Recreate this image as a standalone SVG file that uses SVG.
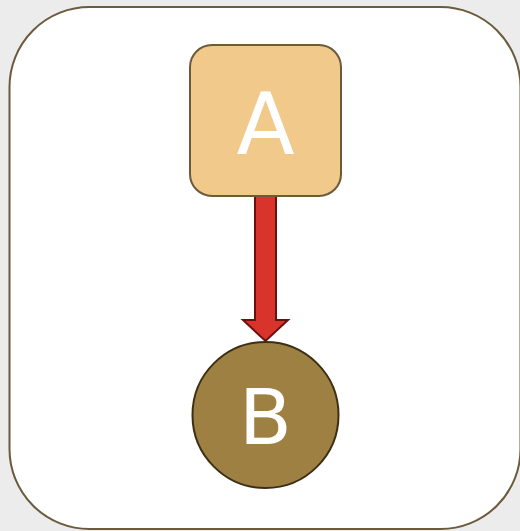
<svg xmlns="http://www.w3.org/2000/svg" width="520" height="531" viewBox="0 0 520 531">
<style>
.lbl{font-family:"DejaVu Sans","Liberation Sans",sans-serif;fill:#ffffff;text-anchor:middle}
</style>
<rect x="0" y="0" width="520" height="531" fill="#ececec"/>
<rect x="9.5" y="7" width="511" height="522" rx="80" ry="80" fill="#ffffff" stroke="#6b5a3c" stroke-width="2"/>
<g id="connectors">
<path d="M255,196 L276,196 L276,320 L288,320 L265.5,341 L243,320 L255,320 Z" fill="#d9342b" stroke="#6b1010" stroke-width="2" stroke-linejoin="miter"/>
</g>
<g id="node-A">
<rect x="190" y="45" width="151" height="151" rx="22" ry="22" fill="#f0c98b" stroke="#6b5a3c" stroke-width="2"/>
<text class="lbl" x="265.5" y="154" font-size="85">A</text>
</g>
<g id="node-B">
<circle cx="265.5" cy="415" r="73" fill="#9e8043" stroke="#3d2f14" stroke-width="2"/>
<text class="lbl" x="265.5" y="444" font-size="77">B</text>
</g>
</svg>
